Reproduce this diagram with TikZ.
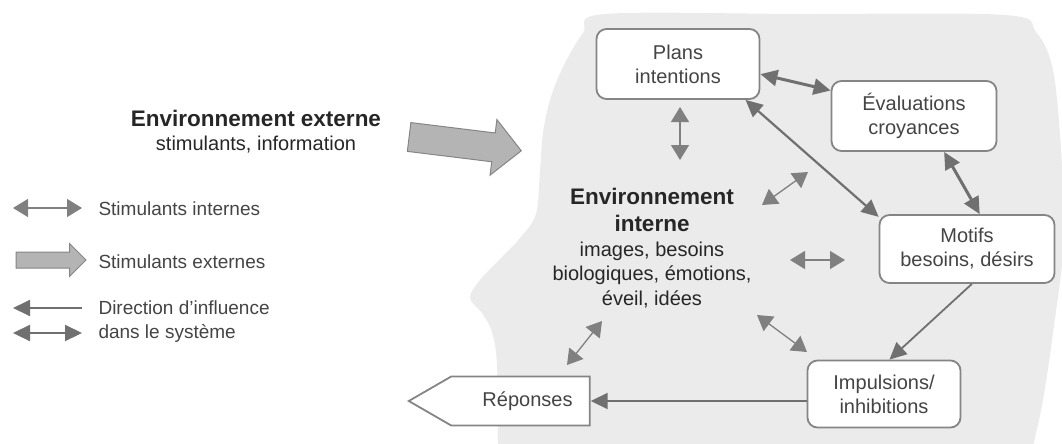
\documentclass[tikz,border=0pt]{standalone}
\usepackage{fontspec}
\setmainfont{Liberation Sans}
\usepackage{xcolor}
\usetikzlibrary{arrows.meta, shapes.arrows, shapes.symbols, calc}

\definecolor{headgray}{HTML}{EBEBEB}
\definecolor{linegray}{HTML}{707070}
\definecolor{tipgray}{HTML}{808080}
\definecolor{boxgray}{HTML}{858585}
\definecolor{textgray}{HTML}{444444}
\definecolor{fatgray}{HTML}{B4B4B4}

\begin{document}
\begin{tikzpicture}[x=1pt, y=-1pt,
    box/.style={draw=boxgray, line width=1.8pt, fill=white, rounded corners=10pt,
        text=textgray, align=center, font=\fontsize{20}{24}\selectfont},
    link/.style={linegray, line width=2.2pt, {Triangle[length=17pt, width=16pt]}-{Triangle[length=17pt, width=16pt]}},
    onelink/.style={linegray, line width=1.8pt, -{Triangle[length=17pt, width=16pt]}},
    innerlink/.style={tipgray, line width=1.3pt, {Triangle[length=15pt, width=18pt]}-{Triangle[length=15pt, width=18pt]}},
    fatarrow/.style={single arrow, draw=boxgray, fill=fatgray, line width=1pt,
        single arrow head indent=0pt, inner sep=0pt},
    legend/.style={anchor=west, text=textgray, font=\fontsize{19}{23}\selectfont}]
        \useasboundingbox (0,0) rectangle (1062,444);

        % Draw the head
        \fill[headgray] plot[smooth, tension=0.55] coordinates {(1033,446) (1043,400) (1053,333)
            (1064,240) (1061,150) (1053,70) (1036,32) (1005,15) (800,14) (605,14) (583,33)
            (563,67) (550,100) (543,133) (540,170) (536,214) (520,238) (503,256) (480,280)
            (470,298) (482,313) (492,332) (497,365) (498,446)} -- cycle;

        % Draw the boxes
        \node[box, minimum width=163pt, minimum height=70pt] (plans) at (678,64) {Plans\\intentions};
        \node[box, minimum width=165pt, minimum height=70pt] (evals) at (914,116) {Évaluations\\croyances};
        \node[box, minimum width=175pt, minimum height=68pt] (motifs) at (967,249) {Motifs\\besoins, désirs};
        \node[box, minimum width=153pt, minimum height=67pt] (impuls) at (884,394) {Impulsions/\\inhibitions};
        \node[draw=boxgray, line width=1.8pt, fill=white, text=textgray, font=\fontsize{20}{24}\selectfont,
            signal, signal to=west, signal pointer angle=60, minimum width=181pt, minimum height=49pt]
            (reponses) at (520.5,401) {\hspace{14pt}Réponses};

        % Draw the texts
        \node[align=center, text=black!85, font=\fontsize{20}{24.5}\selectfont] (interne) at (652,248)
            {{\bfseries\fontsize{22.5}{28}\selectfont Environnement}\\[3pt]
            {\bfseries\fontsize{22.5}{28}\selectfont interne}\\
            images, besoins\\biologiques, émotions,\\éveil, idées};
        \node[align=center, text=black!85, font=\fontsize{20}{24}\selectfont] (externe) at (256,132)
            {{\bfseries\fontsize{22.5}{25}\selectfont Environnement externe}\\stimulants, information};
        \node[fatarrow, rotate=-7, inner ysep=14pt, minimum height=113pt,
            single arrow head extend=13.5pt] (stimext) at (458,143) {};

        % Draw the links between the boxes
        \draw[link, line width=3pt] (plans.-7) -- (evals.163);
        \draw[link] (plans.-28) -- (motifs.160);
        \draw[link, line width=3pt] (evals.-50) -- (motifs.70);
        \draw[onelink] (motifs.-82) -- (impuls.81);
        \draw[onelink] (reponses.east -| impuls.west) -- (reponses.east);

        % Draw the internal stimulants
        \coordinate (p1) at (680,107); \coordinate (q1) at (680,160);
        \coordinate (p2) at (762,205); \coordinate (q2) at (808,172);
        \coordinate (p3) at (790,260); \coordinate (q3) at (845,260);
        \coordinate (p4) at (757,315); \coordinate (q4) at (807,352);
        \coordinate (p5) at (567,365); \coordinate (q5) at (602,321);
        \foreach \i in {1,...,5}
            \draw[innerlink] (p\i) -- (q\i);

        % Draw the legend
        \coordinate (la) at (13,208); \coordinate (lb) at (82,208);
        \draw[innerlink] (la) -- (lb);
        \node[legend] (lint) at (95,209) {Stimulants internes};
        \node[fatarrow, inner ysep=7.5pt, minimum height=70pt,
            single arrow head extend=8.5pt] (lext) at (47,260) {};
        \node[legend] (lexttxt) at (95,262) {Stimulants externes};
        \coordinate (lc) at (82,308); \coordinate (ld) at (13,308);
        \draw[onelink] (lc) -- (ld);
        \coordinate (le) at (13,333); \coordinate (lf) at (82,333);
        \draw[link] (le) -- (lf);
        \node[legend] (ldir) at (95,308) {Direction d'influence};
        \node[legend] (lsys) at (95,333) {dans le système};
    \end{tikzpicture}
\end{document}
